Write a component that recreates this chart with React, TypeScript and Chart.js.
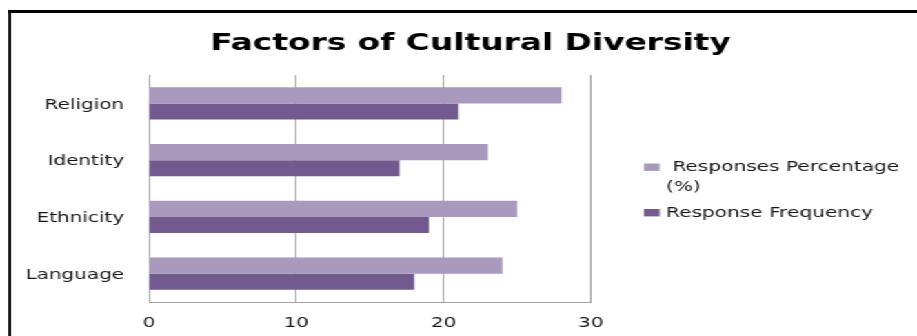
import React, { useEffect, useRef } from 'react';
import { Chart, registerables } from 'chart.js';

Chart.register(...registerables);

// ---- data ----
const TITLE = 'Factors of Cultural Diversity';
const categories = ['Religion', 'Identity', 'Ethnicity', 'Language'];
const percentageLabel = 'Responses Percentage (%)';
const frequencyLabel = 'Response Frequency';
const responsesPercentage = [28, 23, 25, 24];
const responseFrequency = [21, 17, 19, 18];
const legendLines = [[' Responses Percentage', '(%)'], ['Response Frequency']];
const xTickValues = [0, 10, 20, 30];

// ---- style ----
const LOGICAL_W = 665;
const H = 336;
const SCALE_X = 917 / LOGICAL_W;
const FONT = '"DejaVu Sans", Verdana, sans-serif';
const TEXT = '#161616';
const LIGHT = '#A899BD';
const DARK = '#725A8E';
const GRID = '#A3A3A3';

const overlayPlugin = {
  id: 'overlay',
  afterDraw(chart: any) {
    const ctx = chart.ctx as CanvasRenderingContext2D;
    ctx.save();
    ctx.fillStyle = '#000';
    ctx.font = `bold 23.8px ${FONT}`;
    ctx.textAlign = 'center';
    ctx.textBaseline = 'alphabetic';
    ctx.fillText(TITLE, 341.2, 49.5);

    ctx.font = `14.6px ${FONT}`;
    ctx.textAlign = 'left';
    ctx.textBaseline = 'middle';
    const ys = [167.5, 213];
    chart.data.datasets.forEach((ds: any, i: number) => {
      const y = ys[i];
      ctx.fillStyle = ds.backgroundColor;
      ctx.fillRect(467, y - 4, 11.4, 7.4);
      ctx.fillStyle = TEXT;
      legendLines[i].forEach((line, j) => ctx.fillText(line, 483, y + j * 20));
    });
    ctx.restore();
  },
};

export default function App() {
  const ref = useRef<HTMLCanvasElement>(null);

  useEffect(() => {
    if (!ref.current) return;
    const chart = new Chart(ref.current, {
      type: 'bar',
      data: {
        labels: categories,
        datasets: [
          {
            label: percentageLabel,
            data: responsesPercentage,
            backgroundColor: LIGHT,
            borderWidth: 0,
            barPercentage: 1,
            categoryPercentage: 0.567,
          },
          {
            label: frequencyLabel,
            data: responseFrequency,
            backgroundColor: DARK,
            borderWidth: 0,
            barPercentage: 1,
            categoryPercentage: 0.567,
          },
        ],
      },
      options: {
        indexAxis: 'y',
        responsive: false,
        animation: false,
        devicePixelRatio: 1,
        layout: { padding: { left: 18, right: 236.4, top: 75, bottom: 0 } },
        plugins: {
          legend: { display: false },
          title: { display: false },
          tooltip: { enabled: false },
        },
        scales: {
          x: {
            min: 0,
            max: 30,
            afterBuildTicks: (s: any) => {
              s.ticks = xTickValues.map((v) => ({ value: v }));
            },
            afterFit: (s: any) => {
              s.height = 34;
            },
            grid: { color: GRID, lineWidth: 1, drawTicks: false },
            border: { display: true, color: GRID, width: 1 },
            ticks: { color: TEXT, font: { family: FONT, size: 14.5 }, padding: 13 },
          },
          y: {
            afterFit: (s: any) => {
              s.width = 90;
            },
            grid: { display: false, drawTicks: false },
            border: { display: true, color: GRID, width: 1 },
            ticks: { color: TEXT, font: { family: FONT, size: 14.5 }, padding: 18, labelOffset: 1.5 },
          },
        },
      },
      plugins: [overlayPlugin],
    });
    return () => chart.destroy();
  }, []);

  return (
    <div style={{ position: 'fixed', left: 0, top: 0, width: 917, height: H, overflow: 'hidden', background: '#fff' }}>
      <div
        style={{
          position: 'absolute',
          left: 0,
          top: 0,
          width: LOGICAL_W,
          height: H,
          transform: `scaleX(${SCALE_X})`,
          transformOrigin: '0 0',
        }}
      >
        <div
          style={{
            position: 'absolute',
            left: 5.8,
            top: 10,
            width: 1000,
            height: 1000,
            borderLeft: '2.9px solid #000',
            borderTop: '3px solid #000',
          }}
        />
        <canvas ref={ref} width={LOGICAL_W} height={H} style={{ position: 'absolute', left: 0, top: 0 }} />
      </div>
    </div>
  );
}
